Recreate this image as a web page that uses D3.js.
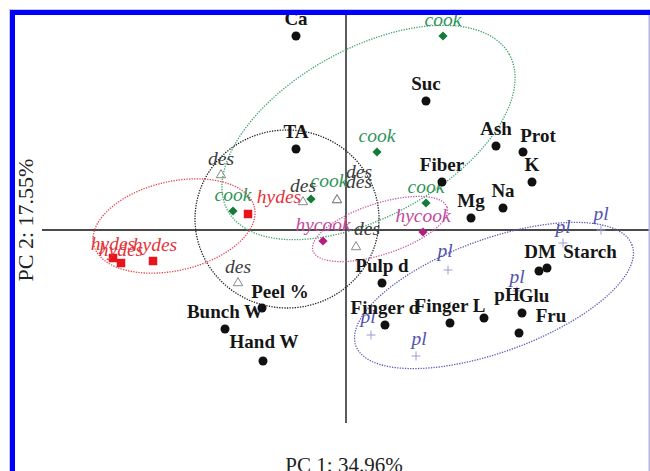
<!DOCTYPE html>
<html>
<head>
<meta charset="utf-8">
<script src="https://cdn.jsdelivr.net/npm/d3@7"></script>
<style>
  html, body { margin: 0; padding: 0; background: #fff; }
  svg { display: block; }
</style>
</head>
<body>
<div id="chart"></div>
<script>
// PCA biplot: variable loadings (black dots) and processed samples (coloured symbols)

// Variables
const varNames = ["Ca", "TA", "Suc", "Ash", "Prot", "K", "Fiber", "Na", "Mg", "Pulp d",
  "Finger d", "Finger L", "pH", "Glu", "Fru", "DM", "Starch", "Peel %", "Bunch W", "Hand W"];
const varPC1 = [-1.00, -1.00, 1.60, 3.00, 3.54, 3.72, 1.92, 3.14, 2.50, 0.72,
  0.78, 2.08, 2.76, 3.52, 3.46, 3.86, 4.02, -1.68, -2.42, -1.66];
const varPC2 = [3.88, 1.62, 2.58, 1.68, 1.56, 0.96, 0.96, 0.44, 0.24, -1.06,
  -1.90, -1.86, -1.76, -1.66, -2.06, -0.82, -0.76, -1.56, -1.98, -2.62];

// Samples, by treatment
const cookPC1 = [1.94, 0.62, 1.60, -0.70, -2.26];
const cookPC2 = [3.88, 1.56, 0.54, 0.62, 0.38];
const hycookPC1 = [-0.46, 1.54];
const hycookPC2 = [-0.22, -0.04];
const desPC1 = [-2.50, -0.86, -0.18, -0.18, 0.20, -2.16];
const desPC2 = [1.10, 0.56, 0.60, 0.60, -0.34, -1.06];
const hydesPC1 = [-1.96, -4.66, -4.50, -3.86];
const hydesPC2 = [0.32, -0.56, -0.66, -0.62];
const plPC1 = [5.10, 4.34, 2.04, 3.42, 0.50, 1.40];
const plPC2 = [0.00, -0.26, -0.80, -1.22, -2.10, -2.52];

// Group ellipses (centre, semi-axes in PC units, tilt in degrees)
const ellipseGroups = ["cook", "des", "hydes", "hycook", "pl"];
const ellipseCx = [0.45, -1.18, -3.44, 0.68, 2.96];
const ellipseCy = [1.95, 0.22, 0.08, 0.02, -1.31];
const ellipseA = [3.22, 1.84, 1.65, 1.41, 2.94];
const ellipseB = [1.68, 1.78, 0.89, 0.51, 1.13];
const ellipseAngle = [29, 0, 13, 18, 20];

const axisTitleX = "PC 1: 34.96%";
const axisTitleY = "PC 2: 17.55%";

// ---------------------------------------------------------------------------
const W = 650, H = 471;
const svg = d3.select("#chart").append("svg").attr("width", W).attr("height", H);

const x = d3.scaleLinear().domain([-6.08, 6.08]).range([42, 650]);
const y = d3.scaleLinear().domain([4.3, -3.86]).range([15, 423]);

const groupStyle = {
  cook:   { mark: "#137a3c", text: "#2f9458", ring: "#3aa36a" },
  des:    { mark: "#8a8a8a", text: "#3c3c3c", ring: "#1e1e1e" },
  hydes:  { mark: "#e8141c", text: "#e4343a", ring: "#e2444a" },
  hycook: { mark: "#b21f7e", text: "#c24a9c", ring: "#c65aa6" },
  pl:     { mark: "#9c9cd6", text: "#5252b0", ring: "#5a5ab8" }
};

const serif = "'Liberation Serif', 'Times New Roman', serif";

// Axes through the origin
const axes = svg.append("g").attr("stroke", "#4a4a4a").attr("stroke-width", 1.8);
axes.append("line")
  .attr("x1", x(-6.08)).attr("x2", x(6.08))
  .attr("y1", y(0)).attr("y2", y(0));
axes.append("line")
  .attr("x1", x(0)).attr("x2", x(0))
  .attr("y1", y(4.3)).attr("y2", y(-3.86));

// Dotted group ellipses
const ellipseLine = d3.line().x(d => x(d[0])).y(d => y(d[1])).curve(d3.curveLinearClosed);
const ringG = svg.append("g").attr("fill", "none");
ellipseGroups.forEach((g, i) => {
  const phi = ellipseAngle[i] * Math.PI / 180;
  const pts = d3.range(0, 360, 2).map(deg => {
    const t = deg * Math.PI / 180;
    const ex = ellipseA[i] * Math.cos(t), ey = ellipseB[i] * Math.sin(t);
    return [ellipseCx[i] + ex * Math.cos(phi) - ey * Math.sin(phi),
            ellipseCy[i] + ex * Math.sin(phi) + ey * Math.cos(phi)];
  });
  ringG.append("path")
    .attr("d", ellipseLine(pts))
    .attr("stroke", groupStyle[g].ring)
    .attr("stroke-width", 1.3)
    .attr("stroke-dasharray", "1.3,1.3");
});

// Sample symbols and labels
const samples = [];
[["cook", cookPC1, cookPC2], ["hycook", hycookPC1, hycookPC2], ["des", desPC1, desPC2],
 ["hydes", hydesPC1, hydesPC2], ["pl", plPC1, plPC2]].forEach(([g, a, b]) => {
  a.forEach((v, i) => samples.push({ group: g, idx: i, pc1: v, pc2: b[i] }));
});

// label placement (pixels, relative to the symbol)
const sampleNudge = {
  "cook-3": [18, -12], "des-2": [22, -22], "des-3": [22, -12], "des-4": [11, -12],
  "hydes-0": [31, -11], "hydes-1": [0, -8], "hydes-2": [0, -7], "hydes-3": [2, -10],
  "pl-2": [-3, -13], "pl-3": [0, -8], "pl-4": [-3, -12], "pl-5": [3, -11]
};

const symG = svg.append("g");
samples.forEach(s => {
  const px = x(s.pc1), py = y(s.pc2);
  const st = groupStyle[s.group];
  if (s.group === "cook" || s.group === "hycook") {
    symG.append("path")
      .attr("d", "M0,-4.6L4.6,0L0,4.6L-4.6,0Z")
      .attr("transform", `translate(${px},${py})`)
      .attr("fill", st.mark);
  } else if (s.group === "des") {
    symG.append("path")
      .attr("d", d3.symbol(d3.symbolTriangle, 38)())
      .attr("transform", `translate(${px},${py})`)
      .attr("fill", "none").attr("stroke", st.mark).attr("stroke-width", 1);
  } else if (s.group === "hydes") {
    symG.append("path")
      .attr("d", d3.symbol(d3.symbolSquare, 72)())
      .attr("transform", `translate(${px},${py})`)
      .attr("fill", st.mark);
  } else {
    symG.append("path")
      .attr("d", "M-4.5,0H4.5M0,-4.5V4.5")
      .attr("transform", `translate(${px},${py})`)
      .attr("stroke", st.mark).attr("stroke-width", 1);
  }
});

const sampleText = svg.append("g")
  .attr("font-family", serif).attr("font-style", "italic").attr("font-size", 19.5)
  .attr("text-anchor", "middle");
samples.forEach(s => {
  const n = sampleNudge[`${s.group}-${s.idx}`] || [0, -10];
  sampleText.append("text")
    .attr("x", x(s.pc1) + n[0]).attr("y", y(s.pc2) + n[1])
    .attr("fill", groupStyle[s.group].text)
    .text(s.group);
});

// Variable loadings
const varNudge = {
  "Prot": [15, -10], "Peel %": [18, -10], "pH": [23, -17], "Glu": [12, -11],
  "Fru": [32, -11], "Starch": [43, -10], "DM": [1, -13], "Hand W": [1, -13]
};
const varG = svg.append("g");
varNames.forEach((name, i) => {
  varG.append("circle")
    .attr("cx", x(varPC1[i])).attr("cy", y(varPC2[i])).attr("r", 4.5)
    .attr("fill", "#111");
});
const varText = svg.append("g")
  .attr("font-family", serif).attr("font-weight", "bold").attr("font-size", 19)
  .attr("text-anchor", "middle").attr("fill", "#161616");
varNames.forEach((name, i) => {
  const n = varNudge[name] || [0, -11];
  varText.append("text")
    .attr("x", x(varPC1[i]) + n[0]).attr("y", y(varPC2[i]) + n[1])
    .text(name);
});

// Axis titles
svg.append("text")
  .attr("x", 344).attr("y", 472)
  .attr("text-anchor", "middle")
  .attr("font-family", serif).attr("font-size", 21).attr("fill", "#222")
  .text(axisTitleX);
svg.append("text")
  .attr("transform", "translate(33,220) rotate(-90)")
  .attr("text-anchor", "middle")
  .attr("font-family", serif).attr("font-size", 22).attr("fill", "#222")
  .text(axisTitleY);

// Blue frame along the top and left edges
svg.append("rect").attr("x", 9).attr("y", 9).attr("width", W - 9).attr("height", 1).attr("fill", "#c8c8d6");
svg.append("rect").attr("x", 9).attr("y", 9).attr("width", 1).attr("height", H - 9).attr("fill", "#c8c8d6");
svg.append("rect").attr("x", 10).attr("y", 10).attr("width", W - 10).attr("height", 5).attr("fill", "#0000ff");
svg.append("rect").attr("x", 10).attr("y", 10).attr("width", 5).attr("height", H - 10).attr("fill", "#0000ff");
svg.append("rect").attr("x", 648.5).attr("y", 15).attr("width", 1.5).attr("height", H - 15).attr("fill", "#b4b4ee");
</script>
</body>
</html>
